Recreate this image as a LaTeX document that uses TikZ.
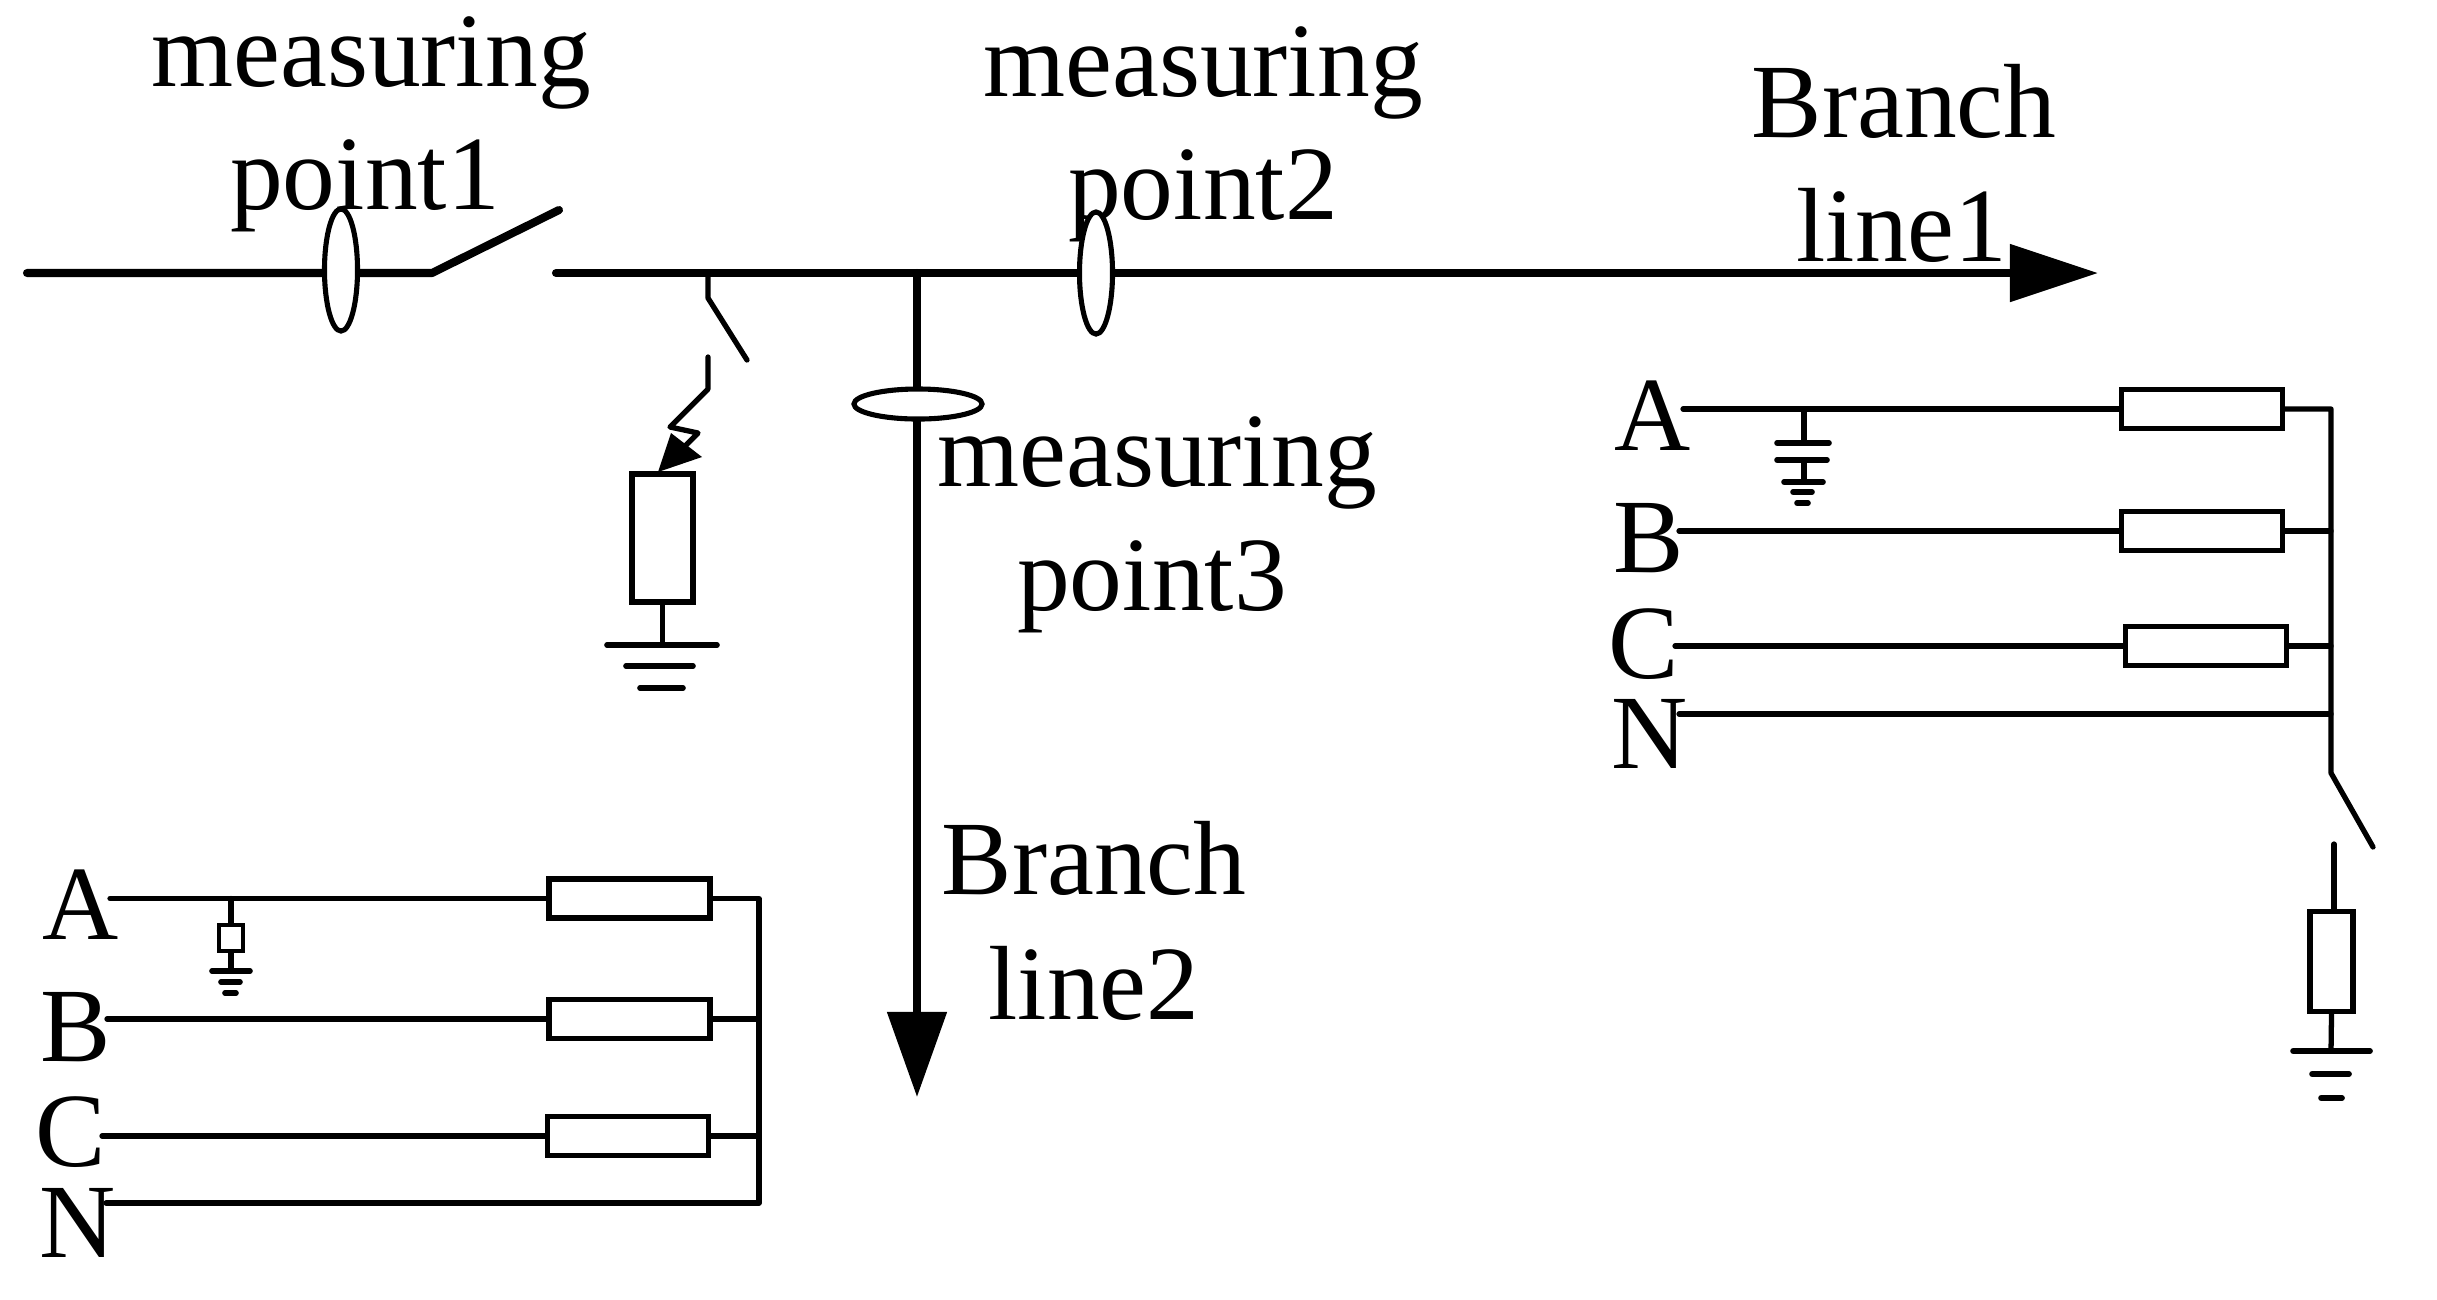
\documentclass[tikz,border=0pt]{standalone}
\usepackage{fontspec}
\setmainfont{Liberation Serif}
\usetikzlibrary{positioning, shapes.geometric, arrows.meta, calc}
\tikzset{
    x=0.01cm, y=-0.01cm,
    label text/.style={font=\fontsize{30}{36}\selectfont, inner sep=0pt, anchor=base},
    main_line/.style={line width=2.3pt, line cap=round, line join=round},
    thin_line/.style={line width=1.5pt, line cap=round, line join=round},
    ground_bar/.style={line width=1.6pt, line cap=round},
    power_arrow/.style={main_line, -{Triangle[length=0.88cm, width=0.56cm]}},
    branch_arrow/.style={main_line, -{Triangle[length=0.85cm, width=0.58cm]}},
    resistor/.style={draw, line width=1.5pt, inner sep=0pt, minimum width=1.61cm, minimum height=0.39cm, fill=white},
    tall_resistor/.style={draw, line width=1.5pt, inner sep=0pt, minimum width=0.43cm, minimum height=1.0cm, fill=white},
    meter/.style={ellipse, draw, line width=1.45pt, inner sep=0pt, fill=white}
}
\begin{document}
\begin{tikzpicture}
      \useasboundingbox (0,0) rectangle (2437,1299);

      % --- Labels ---
      \node (txt1a) [label text] at (371,86) {measuring};
      \node (txt1b) [label text] at (365,209) {point1};
      \node (txt2a) [label text] at (1203,96) {measuring};
      \node (txt2b) [label text] at (1203,219) {point2};
      \node (txt3a) [label text] at (1157,486) {measuring};
      \node (txt3b) [label text] at (1152,610) {point3};
      \node (txt4a) [label text] at (1904,137) {Branch};
      \node (txt4b) [label text] at (1902,261) {line1};
      \node (txt5a) [label text] at (1094,894) {Branch};
      \node (txt5b) [label text] at (1094,1019) {line2};

      % --- Main Line ---
      \coordinate (lineStart) at (27,273);
      \coordinate (swHinge) at (432,273);
      \coordinate (swTip) at (559,210);
      \coordinate (lineCont) at (556,273);
      \coordinate (lineEnd) at (2098,273);
      \coordinate (branchTop) at (917,273);
      \coordinate (branchEnd) at (917,1097);
      \draw[main_line] (lineStart) -- (swHinge) -- (swTip);
      \draw[power_arrow] (lineCont) -- (lineEnd);
      \draw[branch_arrow] (branchTop) -- (branchEnd);

      % --- Measuring Points ---
      \node (meter1) [meter, minimum width=0.33cm, minimum height=1.22cm] at (341,270) {};
      \node (meter2) [meter, minimum width=0.33cm, minimum height=1.22cm] at (1096,273) {};
      \node (meter3) [meter, minimum width=1.28cm, minimum height=0.3cm] at (918,404) {};

      % --- Fault Branch ---
      \coordinate (faultTop) at (708,273);
      \coordinate (faultHinge) at (708,298);
      \coordinate (faultTip) at (747,360);
      \coordinate (faultLow) at (708,357);
      \node (faultRes) [tall_resistor, minimum width=0.61cm, minimum height=1.28cm] at (662.5,538) {};
      \draw[thin_line] (faultTop) -- (faultHinge) -- (faultTip);
      \draw[thin_line] (faultLow) -- (708,389) -- (670,427) -- (698,433) -- (683,448);
      \fill (658,472) -- (671,433) -- (702,457) -- cycle;
      \coordinate (faultGnd) at (faultRes.south |- 0,645);
      \draw[thin_line] (faultRes.south) -- (faultGnd);
      \draw[ground_bar] (607,645) -- (717,645);
      \draw[ground_bar] (626,666) -- (693,666);
      \draw[ground_bar] (640,688) -- (683,688);

      % --- Right Block ---
      \node (rtA) [label text] at (1653,450) {A};
      \node (rtB) [label text] at (1649,572) {B};
      \node (rtC) [label text] at (1644,678) {C};
      \node (rtN) [label text] at (1650,768) {N};
      \node (resRA) [resistor] at (2202,409) {};
      \node (resRB) [resistor] at (2202,531) {};
      \node (resRC) [resistor] at (2206,646) {};
      \coordinate (busRTop) at (2331,409);
      \coordinate (busRLow) at (2331,773);
      \coordinate (swRTip) at (2373,847);
      \draw[thin_line] (1683,409) -- (resRA.west);
      \draw[thin_line] (1679,531) -- (resRB.west);
      \draw[thin_line] (1675,646) -- (resRC.west);
      \draw[thin_line] (1679,714) -- (2331,714);
      \draw[thin_line] (resRA.east) -- (busRTop) -- (busRLow) -- (swRTip);
      \draw[thin_line] (resRB.east) -- (resRB.east -| busRTop);
      \draw[thin_line] (resRC.east) -- (resRC.east -| busRTop);
      \node (resRG) [tall_resistor] at (2331.5,961.5) {};
      \draw[thin_line] (2334,844) -- (2334,911);
      \coordinate (gndR) at (2331,1051);
      \draw[thin_line] (resRG.south) -- (gndR);
      \draw[ground_bar] (2293,1051) -- (2370,1051);
      \draw[ground_bar] (2312,1074) -- (2349,1074);
      \draw[ground_bar] (2321,1098) -- (2342,1098);

      % --- Right Block Ground ---
      \draw[thin_line] (1804,409) -- (1804,443);
      \draw[ground_bar] (1777,443) -- (1829,443);
      \draw[ground_bar] (1777,460) -- (1827,460);
      \draw[thin_line] (1804,460) -- (1804,482);
      \draw[ground_bar] (1784,482) -- (1823,482);
      \draw[ground_bar] (1793,492) -- (1812,492);
      \draw[ground_bar] (1797,503) -- (1808,503);

      % --- Left Block ---
      \node (ltA) [label text] at (81,939) {A};
      \node (ltB) [label text] at (76,1061) {B};
      \node (ltC) [label text] at (71,1166) {C};
      \node (ltN) [label text] at (78,1257) {N};
      \node (resLA) [resistor] at (629.5,898.5) {};
      \node (resLB) [resistor] at (629.5,1019) {};
      \node (resLC) [resistor] at (628,1136) {};
      \coordinate (busLTop) at (759,898.5);
      \coordinate (busLLow) at (759,1203);
      \draw[thin_line] (110,898.5) -- (resLA.west);
      \draw[thin_line] (107,1019) -- (resLB.west);
      \draw[thin_line] (102,1136) -- (resLC.west);
      \draw[thin_line] (resLA.east) -- (busLTop) -- (busLLow) -- (106,1203);
      \draw[thin_line] (resLB.east) -- (resLB.east -| busLTop);
      \draw[thin_line] (resLC.east) -- (resLC.east -| busLTop);

      % --- Left Block Ground ---
      \node (resLG) [draw, line width=1.4pt, inner sep=0pt, minimum width=0.24cm, minimum height=0.26cm] at (231,938) {};
      \draw[thin_line] (231,898.5) -- (resLG.north);
      \draw[thin_line] (resLG.south) -- (231,971);
      \draw[ground_bar] (212,971) -- (250,971);
      \draw[ground_bar] (221,982) -- (240,982);
      \draw[ground_bar] (225,993) -- (236,993);
  \end{tikzpicture}
\end{document}
